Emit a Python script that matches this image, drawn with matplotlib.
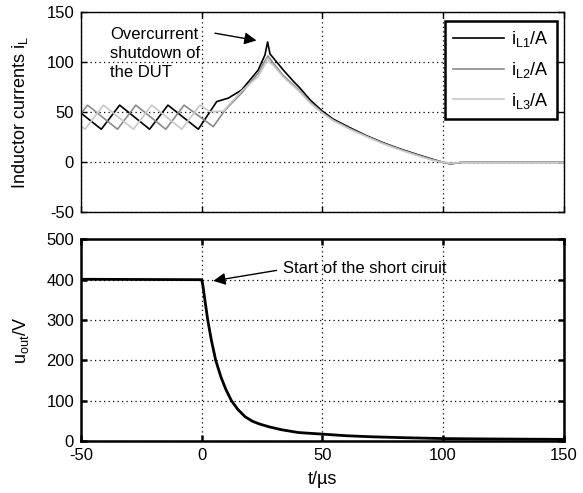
import matplotlib
matplotlib.use("Agg")
import matplotlib.pyplot as plt

plt.rcParams['font.family'] = ['Liberation Sans', 'DejaVu Sans']
plt.rcParams['mathtext.fontset'] = 'custom'
plt.rcParams['mathtext.rm'] = 'Liberation Sans'
plt.rcParams['mathtext.it'] = 'Liberation Sans'
plt.rcParams['axes.unicode_minus'] = False

# inductor currents (t in us, i in A)
t_L1 = [-50, -41.6, -34, -21.6, -14, -1.4, 6.2, 11, 16.5, 23.4, 26.2, 27.3, 28.3,
        33.8, 37.9, 40.7, 45, 50, 54.5, 61.4, 68.3, 75.2, 82, 89, 95, 100, 103, 108, 150]
i_L1 = [49, 33, 57, 33, 57, 33, 60.5, 64, 72, 92, 107, 120, 108,
        92, 81, 74, 62, 51, 43, 34.5, 26.5, 19.5, 13.5, 8, 3.5, 0, -1.5, 0, 0]

t_L2 = [-50, -47.3, -34.9, -27.3, -14.9, -7.3, 4.8, 9.6, 16.5, 23.4, 26.9, 27.4, 29.6,
        33.8, 40.7, 45, 50, 54.5, 61.4, 68.3, 75.2, 82, 89, 95, 100, 103, 108, 150]
i_L2 = [48.7, 57, 33, 57, 33, 57, 35.5, 52, 69, 89, 104, 106, 99,
        86.5, 71, 60, 49.5, 42, 33.5, 26, 19, 13, 7.5, 3, 0, -1.5, 0, 0]

t_L3 = [-50, -48.3, -40.7, -28.3, -20.7, -8.3, -0.7, 3.4, 8.9, 16.5, 23.4, 26.5, 27.3, 28,
        29.6, 33.8, 40.7, 45, 50, 54.5, 61.4, 68.3, 75.2, 82, 89, 95, 100, 103, 108, 150]
i_L3 = [36, 33, 57, 33, 57, 33, 57, 50.5, 51, 71, 85.5, 99, 104, 100,
        97, 85, 70, 59, 49, 41.5, 33, 25.5, 18.5, 12.5, 7, 2.5, 0, -1, 0, 0]

# output voltage
t_u = [-50, 0, 0.5, 1.3, 2.5, 4, 5.8, 8, 10, 12.3, 15, 18, 21, 24, 28, 33, 40, 50,
       60, 70, 85, 100, 120, 150]
u_out = [401, 400, 385, 350, 300, 250, 200, 158, 128, 100, 78, 60, 49, 42, 35, 28, 21, 17,
         13, 10.5, 8, 6, 5, 4]

x_ticks = [-50, 0, 50, 100, 150]
i_ticks = [-50, 0, 50, 100, 150]
u_ticks = [0, 100, 200, 300, 400, 500]

fs_tick = 12
fs_lab = 13
fig = plt.figure(figsize=(5.83, 4.93), dpi=100)
ax1 = fig.add_axes([0.139, 0.569, 0.828, 0.407])
ax2 = fig.add_axes([0.139, 0.1055, 0.828, 0.409])

ax1.plot(t_L1, i_L1, color="black", lw=1.2, label=r"i$_{\mathrm{L1}}$/A")
ax1.plot(t_L2, i_L2, color="#8a8a8a", lw=1.2, label=r"i$_{\mathrm{L2}}$/A")
ax1.plot(t_L3, i_L3, color="#c8c8c8", lw=1.2, label=r"i$_{\mathrm{L3}}$/A")
ax1.set_xlim(-50, 150)
ax1.set_ylim(-50, 150)
ax1.set_xticks(x_ticks)
ax1.set_xticklabels([])
ax1.set_yticks(i_ticks)
ax1.set_ylabel(r"Inductor currents i$_{\mathrm{L}}$", fontsize=fs_lab, labelpad=12)

leg = ax1.legend(loc="upper right", bbox_to_anchor=(0.985, 0.955), fontsize=fs_lab,
                 fancybox=False, framealpha=1, edgecolor="black",
                 handlelength=2.85, labelspacing=0.6, borderpad=0.45, handletextpad=0.35,
                 borderaxespad=0)
leg.get_frame().set_linewidth(1.8)

ax1.annotate("", xy=(22.7, 121.4), xytext=(5.5, 128.7),
             arrowprops=dict(arrowstyle="-|>", color="black", lw=1.0, mutation_scale=18,
                             shrinkA=0, shrinkB=0))
ax1.text(-38, 135, "Overcurrent\nshutdown of\nthe DUT", fontsize=fs_tick,
         va="top", ha="left", linespacing=1.32)

ax2.plot(t_u, u_out, color="black", lw=2)
ax2.set_xlim(-50, 150)
ax2.set_ylim(0, 500)
ax2.set_xticks(x_ticks)
ax2.set_yticks(u_ticks)
ax2.set_xlabel(r"t/µs", fontsize=fs_lab, labelpad=6)
ax2.set_ylabel(r"u$_{\mathrm{out}}$/V", fontsize=fs_lab, labelpad=11)
ax2.annotate("", xy=(4.8, 397), xytext=(31, 423),
             arrowprops=dict(arrowstyle="-|>", color="black", lw=1.0, mutation_scale=18,
                             shrinkA=0, shrinkB=0))
ax2.text(33.6, 428, "Start of the short ciruit", fontsize=fs_tick, va="center", ha="left")

for ax, sw in ((ax1, 1.0), (ax2, 1.8)):
    ax.grid(True, linestyle=(0, (1, 2.6)), color="black", linewidth=0.9)
    ax.tick_params(direction="in", top=True, right=True, labelsize=fs_tick,
                   length=4, width=sw, pad=5)
    for s in ax.spines.values():
        s.set_linewidth(sw)

fig.savefig("out.png", dpi=100)
